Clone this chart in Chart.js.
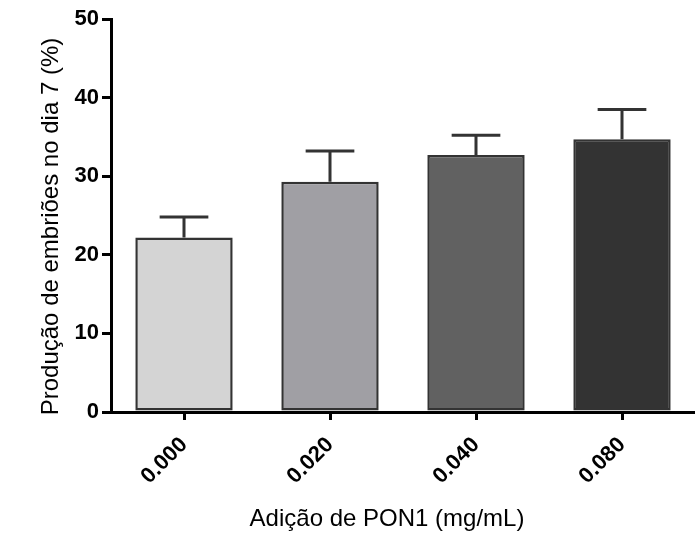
<!DOCTYPE html>
<html>
<head>
<meta charset="utf-8">
<script src="https://cdn.jsdelivr.net/npm/chart.js@4"></script>
<style>
  html, body { margin: 0; padding: 0; background: #fff; }
  #wrap { width: 695px; height: 533px; }
</style>
</head>
<body>
<div id="wrap"><canvas id="chart"></canvas></div>
<script>
const doses = ['0.000', '0.020', '0.040', '0.080'];
const producao = [22.2, 29.3, 32.7, 34.7];
const erroSuperior = [24.8, 33.2, 35.2, 38.5];
const coresBarras = ['#d4d4d4', '#a09fa4', '#616161', '#333333'];
const yTicks = [0, 10, 20, 30, 40, 50];
const tituloX = 'Adição de PON1 (mg/mL)';
const tituloY = 'Produção de embriões no dia 7 (%)';

const FONTE = '"Liberation Sans", Arial, sans-serif';

// barras de erro (só a parte de cima, como no Prism)
const errorBars = {
  id: 'errorBars',
  afterDatasetsDraw(chart) {
    const ctx = chart.ctx;
    const y = chart.scales.y;
    const meta = chart.getDatasetMeta(0);
    ctx.save();
    ctx.strokeStyle = '#333';
    ctx.lineWidth = 3;
    meta.data.forEach((bar, i) => {
      const top = y.getPixelForValue(erroSuperior[i]);
      const half = bar.width / 4;
      ctx.beginPath();
      ctx.moveTo(bar.x, bar.y);
      ctx.lineTo(bar.x, top);
      ctx.moveTo(bar.x - half, top);
      ctx.lineTo(bar.x + half, top);
      ctx.stroke();
    });
    ctx.restore();
  }
};

// títulos dos eixos, posicionados como no gráfico original
const axisTitles = {
  id: 'axisTitles',
  afterDraw(chart) {
    const ctx = chart.ctx;
    const area = chart.chartArea;
    ctx.save();
    ctx.fillStyle = '#000';
    ctx.font = '24px ' + FONTE;
    ctx.textAlign = 'center';
    ctx.textBaseline = 'alphabetic';
    ctx.fillText(tituloX, (area.left + chart.width) / 2 - 16, 526);
    ctx.translate(58, (area.top + area.bottom) / 2 + 11);
    ctx.rotate(-Math.PI / 2);
    ctx.fillText(tituloY, 0, 0);
    ctx.restore();
  }
};

const tickFont = { family: FONTE, size: 22, weight: 'bold' };

new Chart(document.getElementById('chart').getContext('2d'), {
  type: 'bar',
  data: {
    labels: doses,
    datasets: [{
      data: producao,
      backgroundColor: coresBarras,
      borderColor: '#333',
      borderWidth: 2.5,
      borderSkipped: false,
      barPercentage: 0.667,
      categoryPercentage: 1,
    }],
  },
  options: {
    responsive: true,
    maintainAspectRatio: false,
    animation: false,
    layout: { padding: { top: 19, right: -8, left: 0, bottom: 0 } },
    plugins: { legend: { display: false }, tooltip: { enabled: false } },
    scales: {
      x: {
        offset: true,
        grid: { offset: false, drawOnChartArea: false, color: '#000', lineWidth: 3, tickLength: 8 },
        border: { color: '#000', width: 3 },
        ticks: { color: '#000', font: tickFont, minRotation: 45, maxRotation: 45, padding: 12 },
        afterFit(scale) { scale.height = 121; },
      },
      y: {
        min: 0,
        max: 50,
        afterBuildTicks(scale) { scale.ticks = yTicks.map(v => ({ value: v })); },
        grid: { drawOnChartArea: false, color: '#000', lineWidth: 3, tickLength: 9 },
        border: { color: '#000', width: 3 },
        ticks: { color: '#000', font: tickFont, padding: 3 },
        afterFit(scale) { scale.width = 111; },
      },
    },
  },
  plugins: [errorBars, axisTitles],
});
</script>
</body>
</html>
